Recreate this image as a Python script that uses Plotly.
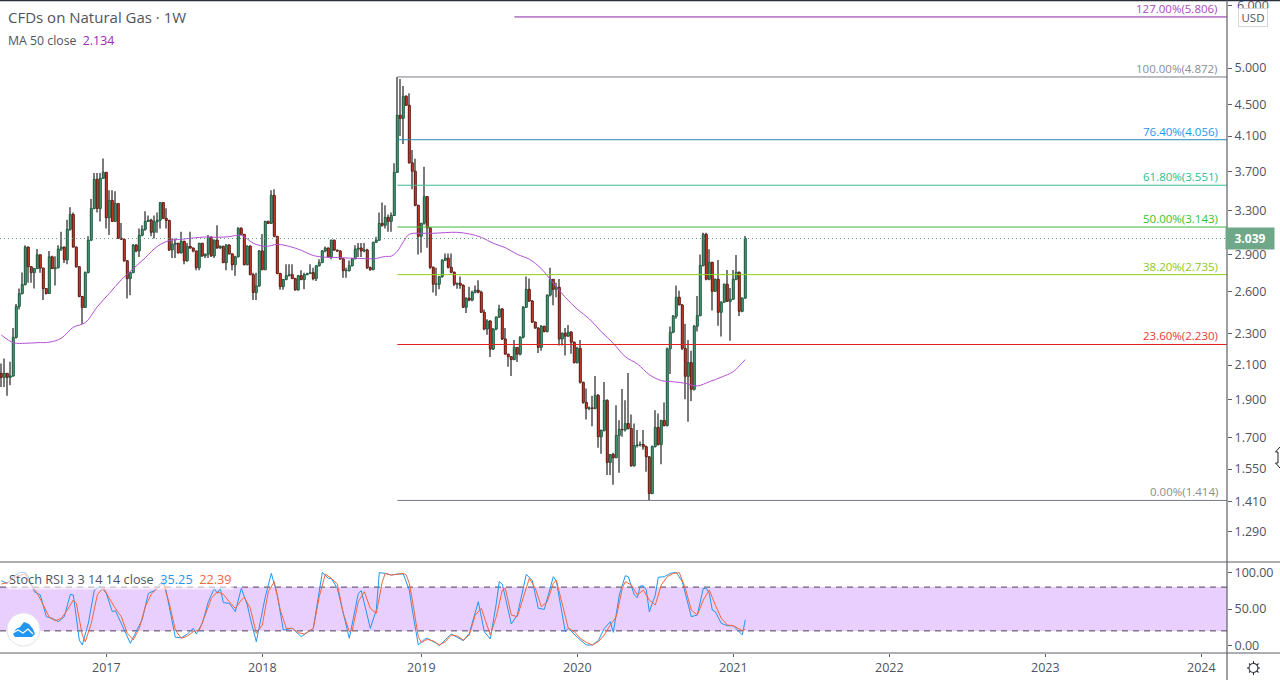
import math
import pandas as pd
import plotly.graph_objects as go
from plotly.subplots import make_subplots

# weekly bars, first one is 2016-05-02
dates = pd.date_range("2016-05-02", periods=249, freq="7D")

opens = [2.050, 2.026, 2.050, 2.026, 2.034, 2.277, 2.492, 2.588, 2.657, 2.964,
         2.799, 2.751, 2.783, 2.898, 2.788, 2.626, 2.588, 2.881, 2.783, 2.791,
         2.947, 2.964, 2.856, 3.122, 3.260, 2.964, 2.799, 2.566, 2.485, 2.751,
         3.024, 3.318, 3.613, 3.318, 3.624, 3.688, 3.229, 3.397, 3.195, 3.366,
         3.041, 3.032, 2.848, 2.703, 2.751, 2.981, 2.931, 3.068, 3.122, 3.195,
         3.207, 3.095, 3.192, 3.207, 3.376, 3.223, 3.204, 2.939, 2.989, 2.998,
         2.914, 3.015, 2.848, 2.970, 2.956, 2.931, 2.791, 2.998, 2.889, 2.903,
         3.050, 2.889, 3.024, 2.956, 2.970, 2.832, 2.981, 2.906, 2.815, 2.881,
         3.131, 3.077, 2.815, 2.973, 2.735, 2.596, 2.646, 2.931, 2.775, 3.195,
         3.177, 3.447, 3.059, 2.743, 2.641, 2.696, 2.727, 2.735, 2.703, 2.616,
         2.727, 2.696, 2.735, 2.743, 2.751, 2.703, 2.807, 2.832, 2.931, 2.956,
         2.881, 3.024, 2.939, 2.931, 2.864, 2.767, 2.767, 2.807, 2.864, 2.947,
         2.956, 2.931, 2.939, 2.791, 2.775, 3.006, 3.024, 3.177, 3.159, 3.232,
         3.195, 3.250, 3.688, 4.356, 4.318, 4.605, 4.485, 3.791, 3.699, 3.349,
         3.059, 3.178, 3.435, 3.135, 2.794, 2.659, 2.659, 2.719, 2.852, 2.870,
         2.794, 2.754, 2.659, 2.667, 2.651, 2.486, 2.553, 2.539, 2.598, 2.613,
         2.598, 2.450, 2.333, 2.388, 2.200, 2.333, 2.416, 2.474, 2.266, 2.168,
         2.152, 2.134, 2.211, 2.168, 2.278, 2.486, 2.620, 2.532, 2.381, 2.340,
         2.211, 2.352, 2.316, 2.576, 2.698, 2.620, 2.636, 2.266, 2.305, 2.285,
         2.312, 2.245, 2.115, 2.205, 1.997, 1.883, 1.850, 1.853, 1.850, 1.922,
         1.703, 1.735, 1.894, 1.580, 1.617, 1.602, 1.710, 1.740, 1.738, 1.770,
         1.745, 1.565, 1.660, 1.663, 1.665, 1.654, 1.606, 1.443, 1.655, 1.750,
         1.665, 1.786, 1.760, 2.202, 2.312, 2.422, 2.560, 2.503, 2.205, 2.032,
         2.115, 1.956, 2.352, 2.427, 2.810, 3.077, 2.698, 2.835, 2.605, 2.698,
         2.450, 2.523, 2.659, 2.530, 2.545, 2.698, 2.754, 2.457, 2.553]

closes = [2.026, 2.050, 2.026, 2.034, 2.277, 2.492, 2.588, 2.657, 2.964, 2.799,
          2.751, 2.783, 2.898, 2.788, 2.626, 2.588, 2.881, 2.783, 2.791, 2.947,
          2.964, 2.856, 3.122, 3.260, 2.964, 2.799, 2.566, 2.485, 2.751, 3.024,
          3.318, 3.613, 3.318, 3.624, 3.688, 3.229, 3.397, 3.195, 3.366, 3.041,
          3.032, 2.848, 2.703, 2.751, 2.981, 2.931, 3.068, 3.122, 3.195, 3.207,
          3.095, 3.192, 3.207, 3.376, 3.223, 3.204, 2.939, 2.989, 2.998, 2.914,
          3.015, 2.848, 2.970, 2.956, 2.931, 2.791, 2.998, 2.889, 2.903, 3.050,
          2.889, 3.024, 2.956, 2.970, 2.832, 2.981, 2.906, 2.815, 2.881, 3.131,
          3.077, 2.815, 2.973, 2.735, 2.596, 2.646, 2.931, 2.775, 3.195, 3.177,
          3.447, 3.059, 2.743, 2.641, 2.696, 2.727, 2.735, 2.703, 2.616, 2.727,
          2.696, 2.735, 2.743, 2.751, 2.703, 2.807, 2.832, 2.931, 2.956, 2.881,
          3.024, 2.939, 2.931, 2.864, 2.767, 2.770, 2.807, 2.864, 2.947, 2.956,
          2.931, 2.939, 2.791, 2.775, 3.006, 3.024, 3.177, 3.159, 3.232, 3.195,
          3.250, 3.688, 4.356, 4.318, 4.605, 4.485, 3.791, 3.699, 3.349, 3.059,
          3.178, 3.435, 3.135, 2.794, 2.659, 2.662, 2.719, 2.852, 2.870, 2.794,
          2.754, 2.659, 2.667, 2.651, 2.486, 2.553, 2.539, 2.598, 2.613, 2.598,
          2.450, 2.333, 2.388, 2.200, 2.333, 2.416, 2.474, 2.266, 2.168, 2.152,
          2.134, 2.211, 2.168, 2.278, 2.486, 2.620, 2.532, 2.381, 2.340, 2.211,
          2.352, 2.316, 2.576, 2.698, 2.620, 2.636, 2.266, 2.305, 2.285, 2.312,
          2.245, 2.115, 2.205, 1.997, 1.883, 1.850, 1.853, 1.850, 1.922, 1.703,
          1.735, 1.894, 1.580, 1.617, 1.602, 1.710, 1.740, 1.738, 1.770, 1.745,
          1.565, 1.660, 1.663, 1.665, 1.654, 1.606, 1.443, 1.655, 1.750, 1.665,
          1.786, 1.760, 2.202, 2.312, 2.422, 2.560, 2.503, 2.205, 2.032, 2.115,
          1.956, 2.352, 2.427, 2.810, 3.077, 2.698, 2.835, 2.605, 2.698, 2.450,
          2.523, 2.659, 2.530, 2.545, 2.698, 2.754, 2.457, 2.553, 3.039]

highs = [2.11, 2.14, 2.05, 2.12, 2.34, 2.51, 2.626, 2.751, 2.98, 2.97,
         2.80, 2.79, 2.947, 2.90, 2.79, 2.63, 2.93, 2.89, 2.885, 2.98,
         3.10, 2.97, 3.21, 3.33, 3.28, 2.97, 2.80, 2.57, 2.76, 3.06,
         3.41, 3.68, 3.68, 3.68, 3.84, 3.69, 3.50, 3.50, 3.49, 3.37,
         3.18, 3.04, 2.85, 2.755, 2.99, 2.99, 3.13, 3.16, 3.29, 3.25,
         3.22, 3.25, 3.28, 3.38, 3.38, 3.32, 3.21, 3.04, 3.04, 3.00,
         3.10, 3.02, 3.00, 3.10, 2.96, 2.93, 3.00, 3.00, 2.91, 3.07,
         3.06, 3.03, 3.16, 2.98, 2.975, 2.99, 2.99, 2.91, 2.89, 3.14,
         3.14, 3.08, 2.98, 2.98, 2.75, 2.75, 2.94, 3.08, 3.20, 3.20,
         3.50, 3.51, 3.06, 2.75, 2.70, 2.82, 2.82, 2.82, 2.71, 2.73,
         2.77, 2.75, 2.75, 2.82, 2.79, 2.81, 2.86, 2.94, 2.97, 2.96,
         3.03, 3.03, 2.94, 2.935, 2.87, 2.79, 2.85, 2.87, 2.98, 3.00,
         3.00, 3.00, 2.95, 2.80, 3.01, 3.055, 3.28, 3.376, 3.35, 3.26,
         3.28, 3.786, 4.872, 4.844, 4.746, 4.62, 4.645, 3.937, 3.836, 3.355,
         3.18, 3.747, 3.44, 3.14, 2.80, 2.79, 2.72, 2.86, 2.91, 2.91,
         2.91, 2.76, 2.67, 2.72, 2.66, 2.56, 2.64, 2.61, 2.65, 2.69,
         2.61, 2.47, 2.40, 2.395, 2.34, 2.42, 2.505, 2.48, 2.34, 2.17,
         2.155, 2.26, 2.21, 2.285, 2.495, 2.72, 2.705, 2.54, 2.385, 2.345,
         2.36, 2.355, 2.58, 2.79, 2.70, 2.67, 2.70, 2.31, 2.34, 2.36,
         2.32, 2.25, 2.215, 2.26, 2.00, 1.961, 1.86, 1.92, 2.034, 1.93,
         1.74, 1.998, 1.90, 1.62, 1.625, 1.868, 1.787, 1.958, 1.895, 2.052,
         1.818, 1.77, 1.737, 1.68, 1.737, 1.66, 1.61, 1.66, 1.84, 1.823,
         1.79, 1.882, 2.21, 2.35, 2.43, 2.65, 2.61, 2.51, 2.37, 2.26,
         2.19, 2.36, 2.57, 2.90, 3.09, 3.09, 2.945, 2.84, 2.705, 2.855,
         2.53, 2.665, 2.772, 2.63, 2.772, 2.897, 2.76, 2.56, 3.062]

lows = [1.97, 1.97, 1.92, 1.98, 2.03, 2.27, 2.47, 2.58, 2.65, 2.67,
        2.67, 2.626, 2.78, 2.75, 2.54, 2.58, 2.585, 2.78, 2.65, 2.785,
        2.93, 2.83, 2.82, 3.11, 2.96, 2.79, 2.56, 2.37, 2.48, 2.745,
        3.02, 3.31, 3.28, 3.195, 3.62, 3.13, 3.07, 3.19, 3.19, 3.04,
        3.03, 2.84, 2.55, 2.575, 2.745, 2.92, 2.88, 3.06, 3.11, 3.19,
        3.06, 3.04, 3.09, 3.13, 3.22, 3.13, 2.93, 2.87, 2.87, 2.91,
        2.91, 2.82, 2.84, 2.95, 2.92, 2.77, 2.77, 2.88, 2.87, 2.87,
        2.88, 2.87, 2.95, 2.95, 2.83, 2.77, 2.90, 2.77, 2.725, 2.875,
        3.07, 2.81, 2.81, 2.73, 2.54, 2.54, 2.64, 2.77, 2.77, 3.17,
        3.17, 3.05, 2.74, 2.616, 2.616, 2.69, 2.72, 2.70, 2.61, 2.61,
        2.69, 2.62, 2.73, 2.74, 2.69, 2.685, 2.80, 2.83, 2.92, 2.875,
        2.86, 2.93, 2.925, 2.855, 2.71, 2.71, 2.76, 2.80, 2.86, 2.88,
        2.88, 2.92, 2.78, 2.767, 2.77, 3.00, 3.02, 3.146, 3.13, 3.10,
        3.10, 3.245, 3.68, 4.10, 4.005, 4.48, 3.785, 3.51, 3.34, 2.901,
        2.915, 3.165, 2.959, 2.78, 2.595, 2.572, 2.62, 2.71, 2.845, 2.785,
        2.745, 2.645, 2.625, 2.625, 2.48, 2.445, 2.53, 2.53, 2.59, 2.59,
        2.445, 2.325, 2.295, 2.15, 2.195, 2.325, 2.41, 2.26, 2.165, 2.09,
        2.034, 2.13, 2.119, 2.16, 2.27, 2.48, 2.525, 2.375, 2.335, 2.175,
        2.19, 2.31, 2.31, 2.565, 2.50, 2.56, 2.223, 2.223, 2.16, 2.28,
        2.17, 2.11, 2.11, 1.99, 1.875, 1.791, 1.84, 1.756, 1.845, 1.649,
        1.621, 1.73, 1.523, 1.523, 1.48, 1.60, 1.533, 1.703, 1.73, 1.74,
        1.56, 1.56, 1.65, 1.655, 1.64, 1.538, 1.415, 1.44, 1.65, 1.66,
        1.572, 1.755, 1.755, 2.046, 2.305, 2.405, 2.50, 2.195, 1.901, 1.779,
        1.89, 1.95, 2.316, 2.42, 2.80, 2.69, 2.69, 2.462, 2.60, 2.356,
        2.282, 2.52, 2.525, 2.255, 2.54, 2.69, 2.424, 2.45, 2.55]

# MA 50
ma_weeks = [0, 4, 8, 12, 16, 20, 24, 28, 32, 36, 40, 44, 48, 52, 56, 60, 64, 68, 72, 76,
            80, 84, 88, 92, 96, 100, 104, 108, 112, 116, 120, 124, 128, 130, 132, 134, 136,
            140, 144, 148, 152, 156, 160, 164, 168, 172, 176, 180, 184, 188, 192, 196, 200,
            204, 208, 212, 216, 220, 224, 228, 232, 236, 240, 244, 246, 248]
ma_values = [2.293, 2.242, 2.238, 2.242, 2.245, 2.271, 2.345, 2.377, 2.49, 2.589, 2.694,
             2.783, 2.873, 2.97, 3.021, 3.032, 3.044, 3.053, 3.05, 3.056,
             3.068, 2.998, 2.97, 2.987, 2.97, 2.936, 2.892, 2.878, 2.875, 2.87, 2.867, 2.864,
             2.884, 2.887, 2.928, 3.01, 3.077,
             3.086, 3.086, 3.092, 3.095, 3.08, 3.05, 2.997, 2.959, 2.902, 2.861, 2.783, 2.667,
             2.56, 2.472, 2.403, 2.315, 2.238, 2.152, 2.107, 2.042, 2.007, 2.0, 1.991, 1.976,
             2.0, 2.027, 2.06, 2.095, 2.134]

stoch_k_weeks = [0, 2, 4, 6, 8, 9, 11, 13, 15, 17, 19, 21, 23, 24, 26, 27, 29, 31, 33, 35, 37, 38,
                 41, 43, 47, 49, 51, 54, 55, 58, 60, 62, 64, 65, 67, 69, 71, 72, 73, 74, 76, 78,
                 80, 82, 83, 85, 88, 90, 92, 94, 97, 100, 104, 107, 109, 110, 112, 116, 119, 120,
                 123, 125, 126, 128, 130, 132, 134, 136, 137, 138, 139, 141, 142, 145, 146, 150,
                 154, 156, 159, 161, 163, 165, 166, 167, 170, 172, 175, 177, 179, 181, 184, 185,
                 188, 189, 192, 195, 197, 199, 201, 203, 204, 206, 208, 209, 211, 212, 213, 214,
                 215, 216, 217, 218, 219, 221, 223, 225, 227, 229, 230, 232, 234, 235, 236, 237,
                 238, 240, 242, 244, 246, 247, 248]
stoch_k = [88.8, 85.1, 94.3, 99.8, 99.8, 94.3, 73.7, 69.2, 39.5, 37.2, 32.6, 39.5, 70.1, 69.2, 7.5,
           0.7, 30.3, 76.0, 81.5, 71.4, 46.3, 47.7, 21.2, 3.0, 35.8, 71.4, 75.1, 89.7, 73.7, 11.2,
           10.7, 15.7, 23.5, 15.7, 30.3, 60.0, 78.3, 71.4, 78.3, 58.7, 57.8, 46.3, 78.3, 55.5, 37.2,
           5.2, 66.9, 98.8, 69.2, 21.2, 23.5, 12.1, 23.5, 100.2, 92.0, 92.0, 78.3, 9.8, 71.4, 75.1,
           23.5, 48.6, 99.8, 98.8, 96.5, 97.9, 97.9, 76.0, 48.6, 21.2, 0.7, 8.4, 9.8, 3.0, -0.2, 15.7,
           6.6, 16.6, 60.0, 18.9, 8.9, 57.8, 87.4, 84.2, 29.4, 41.8, 97.5, 88.8, 50.9, 49.5, 94.3, 88.3,
           18.9, 23.5, 11.2, 0.7, 0.7, 6.6, 23.5, 32.6, 18.0, 69.2, 95.6, 94.3, 69.2, 65.5, 81.5, 81.9,
           76.0, 46.3, 57.8, 69.2, 93.4, 94.3, 98.8, 100.2, 87.4, 53.2, 39.5, 41.8, 78.3, 78.3, 71.4, 48.6,
           46.3, 30.3, 27.1, 27.1, 18.9, 14.4, 35.25]

stoch_d_weeks = [0, 2, 4, 6, 8, 10, 12, 14, 16, 18, 20, 22, 24, 25, 27, 28, 30, 32, 34, 36, 38, 40,
                 42, 44, 46, 48, 50, 52, 54, 56, 58, 60, 62, 64, 66, 68, 70, 72, 74, 76, 78, 80, 81,
                 83, 85, 87, 89, 91, 93, 95, 97, 99, 101, 104, 106, 108, 110, 112, 114, 116, 117,
                 119, 121, 123, 125, 127, 128, 130, 132, 134, 135, 136, 137, 138, 139, 140, 142, 144,
                 146, 148, 150, 152, 154, 156, 158, 160, 162, 163, 165, 167, 168, 170, 172, 174, 176,
                 178, 180, 182, 184, 185, 187, 189, 191, 193, 195, 197, 199, 201, 203, 205, 207, 208,
                 210, 212, 214, 216, 218, 220, 222, 224, 226, 228, 230, 232, 234, 236, 238, 240, 242,
                 244, 246, 247, 248]
stoch_d = [84.2, 86.0, 92.0, 95.2, 98.8, 82.9, 71.4, 55.5, 38.6, 34.0, 37.2, 48.6, 62.3, 57.8, 14.4,
           5.2, 30.3, 69.2, 79.7, 64.6, 50.9, 39.5, 16.6, 7.5, 23.5, 53.2, 70.5, 78.3, 85.1, 57.8, 21.2,
           9.8, 13.0, 18.9, 21.2, 41.8, 64.6, 73.7, 70.1, 60.0, 50.9, 62.3, 66.0, 50.9, 16.6, 28.1, 73.7,
           87.4, 48.6, 23.5, 23.5, 17.6, 15.7, 23.5, 66.9, 97.9, 92.0, 84.2, 44.0, 18.9, 21.2, 60.0, 73.7,
           50.9, 44.0, 87.4, 98.8, 96.5, 97.9, 98.8, 96.5, 85.1, 62.3, 34.9, 12.1, 3.9, 8.4, 6.1, 0.7, 5.2,
           14.4, 13.0, 7.5, 14.4, 41.8, 50.9, 25.8, 14.4, 39.5, 76.0, 78.3, 41.8, 39.5, 66.9, 92.0, 78.3,
           53.2, 60.0, 85.1, 89.7, 57.8, 23.5, 18.9, 9.8, 4.3, 0.7, 5.2, 14.4, 28.1, 39.5, 78.3, 87.4, 82.9,
           69.2, 76.0, 62.3, 55.5, 82.9, 94.3, 98.8, 99.8, 78.3, 48.6, 41.8, 62.3, 76.0, 55.5, 37.2, 28.1,
           27.1, 22.6, 20.3, 22.39]

fib_labels = ["127.00%", "100.00%", "76.40%", "61.80%", "50.00%", "38.20%", "23.60%", "0.00%"]
fib_levels = [5.806, 4.872, 4.056, 3.551, 3.143, 2.735, 2.230, 1.414]
fib_colors = ["#8e24aa", "#787b86", "#2a8ab8", "#3dbb95", "#3cba3c", "#8fd01c", "#e02020", "#787b86"]
fib_text_colors = ["#ab47bc", "#8a8d96", "#2196f3", "#26c08f", "#33c233", "#8ac926", "#e53935", "#8a8d96"]
fib_start_week = [171, 132, 132, 132, 132, 132, 132, 132]

price_ticks = [6.0, 5.0, 4.5, 4.1, 3.7, 3.3, 2.9, 2.6, 2.3, 2.1, 1.9, 1.7, 1.55, 1.41, 1.29]
stoch_ticks = [0, 50, 100]
stoch_band = [20, 80]
year_ticks = ["2017-01-02", "2018-01-01", "2019-01-07", "2020-01-06", "2021-01-04", "2022-01-03",
              "2023-01-02", "2024-01-01"]
year_labels = ["2017", "2018", "2019", "2020", "2021", "2022", "2023", "2024"]
last_price = 3.039
last_ma = 2.134
last_k = 35.25
last_d = 22.39

FONT = "Open Sans"
TEXT = "#50535e"
PLOT_W = 1227
PLOT_H = 652
DAY_MS = 86400000


def px_x(x):
    return x / PLOT_W


def px_y(y):
    return 1 - (y - 1) / PLOT_H


def pixel_path(points, close=True):
    path = " ".join(f"{'L' if i else 'M'}{px_x(a):.5f},{px_y(b):.5f}" for i, (a, b) in enumerate(points))
    return path + (" Z" if close else "")


# 3 px per week, first bar sits at pixel 1.3
x0 = dates[0] - pd.Timedelta(days=1.3 * 7 / 3)
x1 = x0 + pd.Timedelta(days=PLOT_W * 7 / 3)

fig = make_subplots(rows=2, cols=1, shared_xaxes=True, vertical_spacing=0, row_heights=[561, 91])

# candles as two bar traces: thin grey wick, then the body with its dark outline
wick_size = [h - l for h, l in zip(highs, lows)]
fig.add_trace(go.Bar(x=dates, y=wick_size, base=lows, width=7 / 3 * DAY_MS,
                     marker=dict(color="#7a7a7a", line=dict(width=0)), hoverinfo="skip"), row=1, col=1)
body_bot = [min(o, c) for o, c in zip(opens, closes)]
body_size = [abs(c - o) for o, c in zip(opens, closes)]
body_fill = ["#4a9a76" if c >= o else "#d13a28" for o, c in zip(opens, closes)]
body_line = ["#1e5c40" if c >= o else "#611a12" for o, c in zip(opens, closes)]
fig.add_trace(go.Bar(x=dates, y=body_size, base=body_bot, width=2 * 7 / 3 * DAY_MS,
                     marker=dict(color=body_fill, line=dict(color=body_line, width=1)),
                     hoverinfo="skip"), row=1, col=1)

fig.add_trace(go.Scatter(x=dates[ma_weeks], y=ma_values, mode="lines", line=dict(color="#b24fd6", width=1, shape="spline"),
                         hoverinfo="skip"), row=1, col=1)

for lvl, col, week in zip(fib_levels, fib_colors, fib_start_week):
    fig.add_trace(go.Scatter(x=[dates[week], x1], y=[lvl, lvl], mode="lines", line=dict(color=col, width=1),
                             hoverinfo="skip"), row=1, col=1)
fig.add_trace(go.Scatter(x=[x0, x1], y=[last_price, last_price], mode="lines",
                         line=dict(color="#5b9c7a", width=1, dash="1px 3px"), hoverinfo="skip"), row=1, col=1)

fig.add_trace(go.Scatter(x=dates[stoch_k_weeks], y=stoch_k, mode="lines", line=dict(color="#2196f3", width=1),
                         hoverinfo="skip"), row=2, col=1)
fig.add_trace(go.Scatter(x=dates[stoch_d_weeks], y=stoch_d, mode="lines", line=dict(color="#f4663a", width=1),
                         hoverinfo="skip"), row=2, col=1)

# band under the stoch lines
fig.add_shape(type="rect", xref="x2 domain", yref="y2", x0=0, x1=1, y0=stoch_band[0], y1=stoch_band[1],
              fillcolor="#e9cffd", line_width=0, layer="below")
for b in stoch_band:
    fig.add_shape(type="line", xref="x2 domain", yref="y2", x0=0, x1=1, y0=b, y1=b, layer="below",
                  line=dict(color="#4a3f55", width=1, dash="6px 5px"))

# pane borders
for y in [0.5, 562, 653]:
    w = 1.5 if y < 1 else 1.2
    col = "#2a2e39" if y < 1 else "#5d5f66"
    fig.add_shape(type="line", xref="paper", yref="paper", x0=0, x1=1280 / PLOT_W, y0=px_y(y), y1=px_y(y),
                  line=dict(color=col, width=w))
fig.add_shape(type="line", xref="paper", yref="paper", x0=1, x1=1, y0=px_y(0), y1=px_y(680),
              line=dict(color="#5d5f66", width=1.2))

for lab, lvl, col in zip(fib_labels, fib_levels, fib_text_colors):
    fig.add_annotation(xref="paper", x=px_x(1220), xanchor="right", yref="y", y=math.log10(lvl), yanchor="bottom",
                       yshift=-1, showarrow=False, text=f"{lab}({lvl:.3f})", font=dict(family=FONT, size=11.5, color=col))

fig.add_annotation(xref="paper", yref="paper", x=px_x(6), y=px_y(17), xanchor="left", yanchor="middle", showarrow=False,
                   text="CFDs on Natural Gas · 1W", font=dict(family=FONT, size=15, color=TEXT))
fig.add_annotation(xref="paper", yref="paper", x=px_x(6), y=px_y(41), xanchor="left", yanchor="middle", showarrow=False,
                   text=f"MA 50 close  <span style='color:#9c27b0'>{last_ma:.3f}</span>",
                   font=dict(family=FONT, size=12.3, color=TEXT))
fig.add_annotation(xref="paper", yref="paper", x=px_x(7), y=px_y(579), xanchor="left", yanchor="middle", showarrow=False,
                   text=f"Stoch RSI 3 3 14 14 close  <span style='color:#2196f3'>{last_k:.2f}</span>"
                        f"  <span style='color:#f4663a'>{last_d:.2f}</span>",
                   bgcolor="rgba(255,255,255,0.6)", font=dict(family=FONT, size=12.7, color=TEXT))

# top tick label sits half under the USD box, so it goes in as an annotation before the box
fig.add_annotation(xref="paper", yref="paper", x=px_x(1235), y=px_y(6), xanchor="left", yanchor="middle", showarrow=False,
                   text=f"{price_ticks[0]:.3f}", font=dict(family=FONT, size=12.5, color=TEXT))

# last price tag and currency box
fig.add_annotation(xref="paper", yref="paper", x=px_x(1250), y=px_y(238.5), xanchor="center", yanchor="middle", showarrow=False,
                   text=f"<b>{last_price:.3f}</b>", width=46, height=19, bgcolor="#6fa888",
                   font=dict(family=FONT, size=12, color="white"))
fig.add_annotation(xref="paper", yref="paper", x=px_x(1252.5), y=px_y(17.5), xanchor="center", yanchor="middle", showarrow=False,
                   text="USD", width=26, height=15, bgcolor="white", bordercolor="#d6d8de", borderwidth=1, borderpad=1,
                   font=dict(family=FONT, size=11.5, color=TEXT))

# logo badge
fig.add_shape(type="circle", xref="paper", yref="paper", x0=px_x(7), x1=px_x(40), y0=px_y(646), y1=px_y(613),
              fillcolor="white", line=dict(color="#e4dfe8", width=1))
fig.add_shape(type="path", xref="paper", yref="paper", fillcolor="#2196f3", line_width=0,
              path=pixel_path([(13, 634), (16, 629), (20, 627), (24, 622), (29, 624), (33, 629), (35, 634), (32, 637), (15, 637)]))
fig.add_shape(type="path", xref="paper", yref="paper", line=dict(color="white", width=1.2),
              path=pixel_path([(13, 633), (18, 630), (23, 633), (28, 629), (33, 634)], close=False))

# settings icon, bottom right
fig.add_shape(type="circle", xref="paper", yref="paper", x0=px_x(1249), x1=px_x(1258), y0=px_y(672.5), y1=px_y(663.5),
              line=dict(color="#2a2e39", width=1.1))
for ax, ay, bx, by in [(1253.5, 661, 1253.5, 663), (1253.5, 673, 1253.5, 675), (1247, 668, 1249, 668), (1258, 668, 1260, 668),
                       (1249, 663.5, 1250.5, 665), (1257, 671, 1258.5, 672.5), (1258.5, 663.5, 1257, 665), (1250.5, 671, 1249, 672.5)]:
    fig.add_shape(type="path", xref="paper", yref="paper", line=dict(color="#2a2e39", width=1.1),
                  path=pixel_path([(ax, ay), (bx, by)], close=False))

# mouse cursor caught at the right edge of the screenshot
fig.add_shape(type="path", xref="paper", yref="paper", fillcolor="white", line=dict(color="#222222", width=1),
              path=pixel_path([(1280, 447), (1275.5, 452), (1278, 452), (1278, 463), (1275.5, 463), (1280, 468)], close=False))

fig.update_xaxes(range=[x0, x1], rangeslider_visible=False, showgrid=False, zeroline=False, showline=False)
fig.update_xaxes(showticklabels=False, ticks="", row=1, col=1)
fig.update_xaxes(tickmode="array", tickvals=year_ticks, ticktext=year_labels, ticks="outside", ticklen=3,
                 tickcolor="#5d5f66", tickfont=dict(family=FONT, size=12.5, color=TEXT), row=2, col=1)
fig.update_yaxes(side="right", showgrid=False, zeroline=False, showline=False, ticks="outside", ticklen=4,
                 tickcolor="#5d5f66", tickfont=dict(family=FONT, size=12.5, color=TEXT))
fig.update_yaxes(type="log", range=[0.07235, 0.7841], tickmode="array", tickvals=price_ticks,
                 ticktext=[""] + [f"{t:.3f}" for t in price_ticks[1:]], row=1, col=1)
fig.update_yaxes(range=[-10.3, 114.4], tickmode="array", tickvals=stoch_ticks,
                 ticktext=[f"{t:.2f}" for t in stoch_ticks], row=2, col=1)

fig.update_layout(width=1280, height=680, margin=dict(l=0, r=53, t=1, b=27), showlegend=False,
                  paper_bgcolor="white", plot_bgcolor="white", hovermode=False, dragmode=False, barmode="overlay")

fig.write_html("out.html", config={"displayModeBar": False},
               post_script="document.body.style.margin='0';document.documentElement.style.overflow='hidden';")
